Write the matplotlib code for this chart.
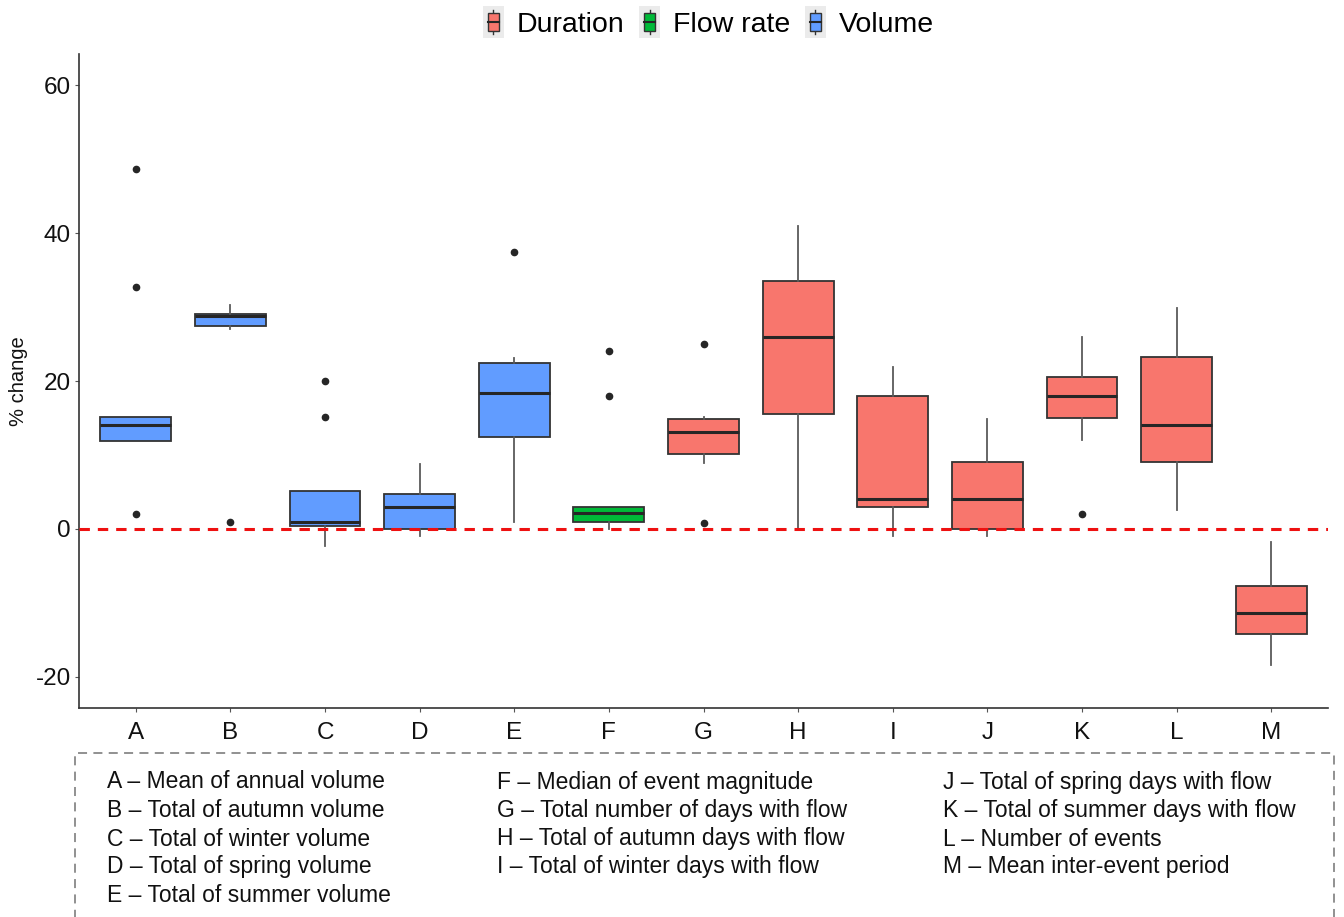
import matplotlib
matplotlib.use("Agg")
import matplotlib.pyplot as plt
from matplotlib.patches import Rectangle
from matplotlib.lines import Line2D
from matplotlib.legend_handler import HandlerBase

plt.rcParams['font.family'] = ['Liberation Sans', 'DejaVu Sans']
plt.rcParams['axes.unicode_minus'] = False

# ---------------- data ----------------
categories = ["A", "B", "C", "D", "E", "F", "G", "H", "I", "J", "K", "L", "M"]
groups = ["Volume", "Volume", "Volume", "Volume", "Volume", "Flow rate",
          "Duration", "Duration", "Duration", "Duration", "Duration", "Duration", "Duration"]
whisker_low = [11.9, 27.0, -2.3, -1.0, 1.0, 0.0, 8.9, 0.0, -1.0, -1.0, 12.0, 2.6, -18.4]
q1 = [11.9, 27.4, 0.4, 0.0, 12.4, 1.0, 10.1, 15.5, 3.0, 0.0, 15.0, 9.1, -14.2]
median = [14.0, 28.8, 0.9, 3.0, 18.4, 2.1, 13.1, 26.0, 4.0, 4.0, 18.0, 14.0, -11.3]
q3 = [15.1, 29.1, 5.1, 4.7, 22.4, 3.0, 14.9, 33.5, 18.0, 9.0, 20.5, 23.3, -7.7]
whisker_high = [15.1, 30.3, 5.1, 8.8, 23.1, 3.0, 15.1, 40.9, 21.9, 14.9, 26.0, 29.9, -1.7]
outliers = [[48.7, 32.7, 2.0], [0.9], [20.0, 15.2], [], [37.5], [24.0, 18.0],
            [25.0, 0.8], [], [], [], [2.0], [], []]

group_order = ["Duration", "Flow rate", "Volume"]
group_colors = {"Duration": "#F8766D", "Flow rate": "#00BA38", "Volume": "#619CFF"}

descriptions = [
    "A \u2013 Mean of annual volume",
    "B \u2013 Total of autumn volume",
    "C \u2013 Total of winter volume",
    "D \u2013 Total of spring volume",
    "E \u2013 Total of summer volume",
    "F \u2013 Median of event magnitude",
    "G \u2013 Total number of days with flow",
    "H \u2013 Total of autumn days with flow",
    "I \u2013 Total of winter days with flow",
    "J \u2013 Total of spring days with flow",
    "K \u2013 Total of summer days with flow",
    "L \u2013 Number of events",
    "M \u2013 Mean inter-event period",
]
y_ticks = [-20, 0, 20, 40, 60]

# ---------------- figure ----------------
W, H = 1344, 917
fig = plt.figure(figsize=(W / 100, H / 100), dpi=100)
ax = fig.add_axes([79 / W, 1 - 708 / H, (1328 - 79) / W, (708 - 54) / H])

stats = []
for i, c in enumerate(categories):
    stats.append(dict(label=c, whislo=whisker_low[i], q1=q1[i], med=median[i],
                      q3=q3[i], whishi=whisker_high[i], fliers=outliers[i]))

positions = list(range(1, len(categories) + 1))
res = ax.bxp(stats, positions=positions, widths=0.75, patch_artist=True,
             showcaps=False, showfliers=True,
             boxprops=dict(edgecolor="#333333", linewidth=1.3),
             medianprops=dict(color="#262626", linewidth=2.2),
             whiskerprops=dict(color="#5a5a5a", linewidth=1.3),
             flierprops=dict(marker="o", markerfacecolor="#262626",
                             markeredgecolor="#262626", markersize=4.5))
for patch, g in zip(res["boxes"], groups):
    patch.set_facecolor(group_colors[g])

ax.axhline(0, color="#EE1111", linestyle=(0, (3.4, 2.6)), linewidth=2.2, zorder=5)

ax.set_xlim(0.4, len(categories) + 0.6)
ax.set_ylim(-24.2, 64.2)
ax.set_yticks(y_ticks)
ax.set_yticklabels([str(t) for t in y_ticks])
ax.set_xticks(positions)
ax.set_xticklabels(categories)

for s in ["top", "right"]:
    ax.spines[s].set_visible(False)
for s in ["left", "bottom"]:
    ax.spines[s].set_color("#333333")
    ax.spines[s].set_linewidth(1.2)
ax.tick_params(axis="both", length=3, color="#555555", labelsize=17.5,
               labelcolor="#111111")
ax.tick_params(axis="y", pad=3)
ax.tick_params(axis="x", pad=7)
ax.set_ylabel("% change", fontsize=14.5, labelpad=5, color="#111111")


# ---------------- legend with mini box keys ----------------
class BoxKeyHandler(HandlerBase):
    def create_artists(self, legend, orig_handle, xdescent, ydescent,
                       width, height, fontsize, trans):
        x0, y0 = -xdescent, -ydescent
        bg = Rectangle((x0, y0), width, height, facecolor="#ebebeb",
                       edgecolor="none", transform=trans)
        cx = x0 + width / 2
        wl = Line2D([cx, cx], [y0 + height * 0.1, y0 + height * 0.9],
                    color="#333333", linewidth=1.0, transform=trans)
        bw = width * 0.5
        box = Rectangle((cx - bw / 2, y0 + height * 0.22), bw, height * 0.56,
                        facecolor=orig_handle.get_facecolor(),
                        edgecolor="#333333", linewidth=1.0, transform=trans)
        md = Line2D([cx - bw / 2, cx + bw / 2], [y0 + height / 2] * 2,
                    color="#262626", linewidth=1.5, transform=trans)
        return [bg, wl, box, md]


handles = [Rectangle((0, 0), 1, 1, facecolor=group_colors[g]) for g in group_order]
leg = fig.legend(handles, group_order, loc="center", bbox_to_anchor=(0.527, 1 - 22 / H),
                 ncol=3, frameon=False, fontsize=20.5, handlelength=0.75,
                 handleheight=1.3, handletextpad=0.45, columnspacing=0.5,
                 handler_map={Rectangle: BoxKeyHandler()})

# ---------------- description box ----------------
rect = Rectangle((75 / W, -0.05), (1334 - 75) / W, 0.05 + 1 - 753 / H,
                 transform=fig.transFigure, fill=False, edgecolor="#888888",
                 linewidth=1.3, linestyle=(0, (5, 3.5)), clip_on=False)
fig.patches.append(rect)

col_x = [107, 497, 943]
col_split = [5, 9, 13]
row_y = [782, 810.5, 839, 867, 895]
start = 0
for cx, end in zip(col_x, col_split):
    for r, txt in enumerate(descriptions[start:end]):
        fig.text(cx / W, 1 - row_y[r] / H, txt, fontsize=16.5, va="center",
                 ha="left", color="#111111")
    start = end

fig.savefig("out.png", dpi=100)
